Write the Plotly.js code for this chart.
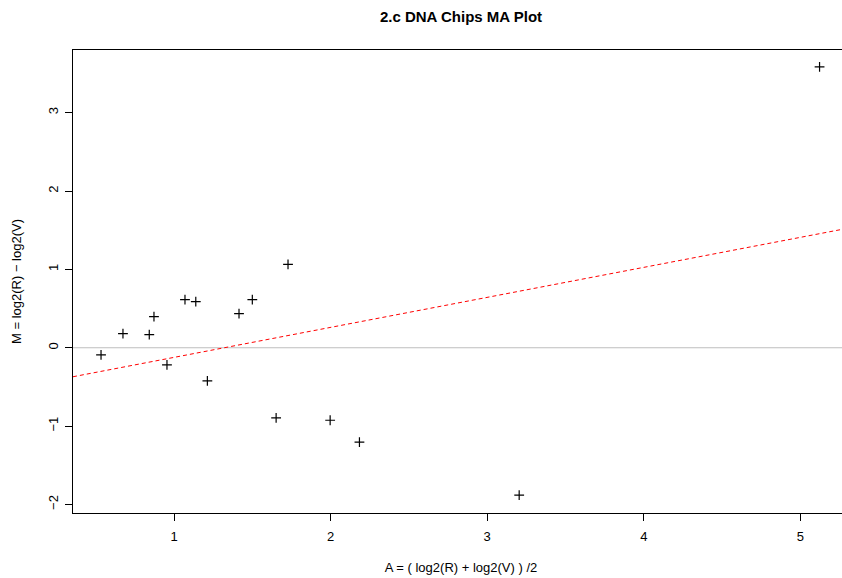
<!DOCTYPE html>
<html>
<head>
<meta charset="utf-8">
<script src="https://cdn.plot.ly/plotly-3.0.1.min.js"></script>
<style>
html,body{margin:0;padding:0;overflow:hidden;background:#fff;width:842px;height:578px;}
#chart{width:849px;height:578px;}
</style>
</head>
<body>
<div id="chart"></div>
<script>
// Data
var A = [0.534, 0.674, 0.842, 0.872, 0.955, 1.070, 1.139, 1.213, 1.415, 1.500, 1.728, 1.652, 1.997, 2.184, 3.204, 5.122];
var M = [-0.09, 0.18, 0.167, 0.397, -0.218, 0.615, 0.589, -0.423, 0.435, 0.615, 1.063, -0.896, -0.925, -1.205, -1.880, 3.585];
var fitIntercept = -0.506;
var fitSlope = 0.383;
var xTicks = [1, 2, 3, 4, 5];
var yTicks = [-2, -1, 0, 1, 2, 3];

var xRange = [0.355, 5.31];
var yRange = [-2.109, 3.80];

var fitX = [xRange[0], xRange[1]];
var fitY = fitX.map(function (a) { return fitIntercept + fitSlope * a; });

var font = "Liberation Sans, Arial, Helvetica, sans-serif";

var traces = [
  {
    x: fitX, y: fitY, type: 'scatter', mode: 'lines',
    line: {color: '#ff0000', width: 1, dash: '4px,3px'},
    hoverinfo: 'skip', showlegend: false
  },
  {
    x: A, y: M, type: 'scatter', mode: 'markers',
    marker: {symbol: 'cross-thin-open', size: 7, line: {color: '#000000', width: 1.2}, color: '#000000'},
    showlegend: false
  }
];

var layout = {
  width: 849, height: 578,
  margin: {l: 73, r: 0, t: 50, b: 65, pad: 0},
  paper_bgcolor: '#ffffff', plot_bgcolor: '#ffffff',
  font: {family: font, size: 13, color: '#000000'},
  title: {
    text: '2.c DNA Chips MA Plot',
    font: {family: font, size: 15, color: '#000000', weight: 'bold'},
    x: 0.5, xref: 'paper', xanchor: 'center',
    y: 1 - 17 / 578, yref: 'container', yanchor: 'middle'
  },
  xaxis: {
    range: xRange, tickvals: xTicks, ticktext: xTicks.map(String),
    showgrid: false, zeroline: false,
    showline: true, mirror: true, linecolor: '#000000', linewidth: 1,
    ticks: 'outside', ticklen: 7, tickwidth: 1, tickcolor: '#000000',
    ticklabelstandoff: 4,
    tickfont: {family: font, size: 13, color: '#000000'},
    title: {text: 'A = ( log2(R) + log2(V) ) /2', font: {family: font, size: 13, color: '#000000'}, standoff: 20}
  },
  yaxis: {
    range: yRange, tickvals: yTicks,
    showgrid: false, zeroline: false,
    showline: true, mirror: true, linecolor: '#000000', linewidth: 1,
    ticks: 'outside', ticklen: 7, tickwidth: 1, tickcolor: '#000000',
    tickangle: -90,
    ticklabelstandoff: 2,
    tickfont: {family: font, size: 13, color: '#000000'},
    title: {text: 'M = log2(R) \u2212 log2(V)', font: {family: font, size: 13, color: '#000000'}, standoff: 21}
  },
  shapes: [
    {type: 'line', xref: 'paper', yref: 'y', x0: 0, x1: 1, y0: 0, y1: 0,
     line: {color: '#bebebe', width: 1}, layer: 'below'}
  ]
};

Plotly.newPlot('chart', traces, layout, {staticPlot: true, displayModeBar: false});
</script>
</body>
</html>
